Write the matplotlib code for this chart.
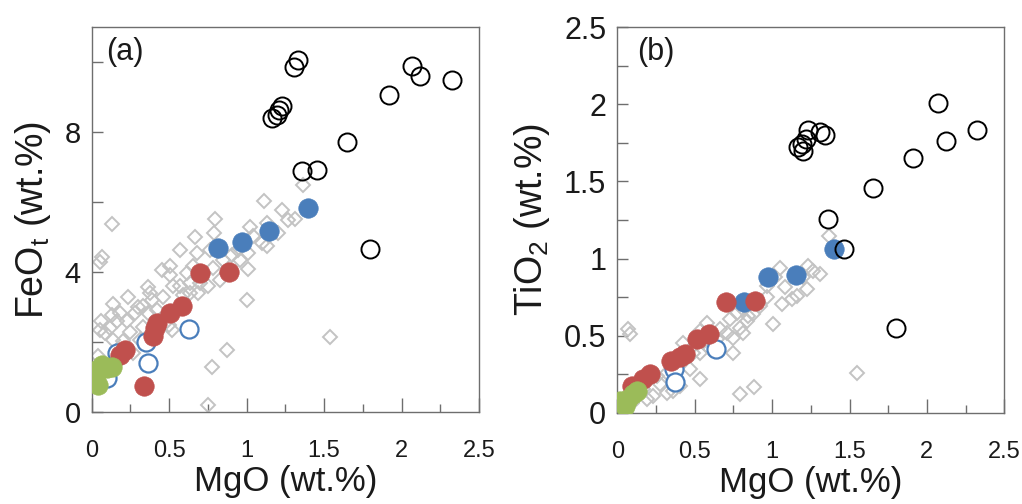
import matplotlib
matplotlib.use("Agg")
import matplotlib.pyplot as plt

plt.rcParams['font.family'] = ['Liberation Sans', 'DejaVu Sans']
plt.rcParams['mathtext.fontset'] = 'custom'
plt.rcParams['mathtext.rm'] = 'Liberation Sans'

# ---------------- Panel (a): FeOt vs MgO ----------------
a_black_x = [1.334, 1.308, 1.226, 1.209, 1.194, 1.162, 1.355, 1.457, 1.646, 1.917, 2.070, 2.119, 2.324, 1.799]
a_black_y = [10.07, 9.85, 8.75, 8.64, 8.50, 8.39, 6.88, 6.92, 7.71, 9.07, 9.90, 9.59, 9.49, 4.65]
a_bluef_x = [1.394, 1.145, 0.970, 0.813]
a_bluef_y = [5.82, 5.18, 4.85, 4.69]
a_blueo_x = [0.628, 0.353, 0.361, 0.161, 0.097]
a_blueo_y = [2.37, 1.99, 1.41, 1.69, 0.97]
a_red_x = [0.699, 0.888, 0.585, 0.506, 0.424, 0.409, 0.394, 0.215, 0.183, 0.338]
a_red_y = [3.97, 4.00, 3.04, 2.83, 2.54, 2.40, 2.18, 1.78, 1.64, 0.73]
a_green_x = [0.043, 0.097, 0.129, 0.011, 0.022, 0.043, 0.065]
a_green_y = [1.21, 1.26, 1.30, 1.16, 0.97, 0.78, 1.35]
a_grey_x = [0.129, 0.065, 0.054, 0.749, 0.779, 0.871, 1.000, 1.538, 1.362, 1.112,
            1.231, 1.312, 0.796, 0.792, 0.667, 0.570, 0.452, 0.506, 0.366, 0.237,
            0.140, 0.129, 0.054, 0.058, 0.161, 0.301, 0.280, 0.366, 0.387, 0.204,
            0.269, 0.043, 0.516, 0.570, 0.635, 0.688, 0.753, 0.785, 0.850, 0.904,
            0.947, 1.011, 1.043, 1.022, 1.130, 1.205, 1.011, 0.828, 0.656, 0.678,
            0.592, 0.463, 0.420, 0.501, 0.333, 0.226, 0.613, 0.721, 0.871, 0.957,
            1.097, 1.269, 0.118, 0.086, 0.183, 0.333, 0.376, 0.527, 0.635, 0.699,
            0.506, 0.764, 1.130, 0.140, 0.312, 0.441, 0.247]
a_grey_y = [5.38, 4.43, 4.28, 0.21, 1.29, 1.78, 3.19, 2.14, 6.48, 6.02,
            5.76, 5.51, 5.52, 5.11, 5.00, 4.64, 4.05, 3.92, 3.57, 3.30,
            3.10, 2.78, 2.35, 2.59, 2.59, 3.00, 2.83, 2.83, 3.21, 2.02,
            1.69, 1.59, 2.35, 3.59, 3.69, 3.40, 3.59, 4.11, 4.35, 4.50,
            4.64, 4.54, 5.02, 5.30, 4.73, 5.11, 4.09, 3.78, 4.16, 4.54,
            3.35, 3.30, 2.92, 2.50, 2.43, 2.59, 3.97, 3.97, 3.97, 4.35,
            4.83, 5.50, 2.40, 2.26, 2.83, 3.02, 3.40, 3.59, 3.40, 3.69,
            4.16, 4.64, 5.40, 2.07, 2.07, 2.64, 2.30]

# ---------------- Panel (b): TiO2 vs MgO ----------------
b_black_x = [2.069, 2.323, 2.121, 1.912, 1.649, 1.361, 1.464, 1.800, 1.234, 1.309, 1.344, 1.217, 1.191, 1.165, 1.202]
b_black_y = [2.005, 1.832, 1.762, 1.650, 1.455, 1.256, 1.064, 0.551, 1.834, 1.823, 1.798, 1.777, 1.743, 1.726, 1.700]
b_bluef_x = [1.400, 1.152, 0.975, 0.820]
b_bluef_y = [1.062, 0.893, 0.882, 0.720]
b_blueo_x = [0.637, 0.366, 0.373]
b_blueo_y = [0.417, 0.287, 0.200]
b_red_x = [0.702, 0.891, 0.594, 0.512, 0.437, 0.405, 0.347, 0.211, 0.168, 0.093]
b_red_y = [0.720, 0.726, 0.514, 0.477, 0.380, 0.363, 0.337, 0.254, 0.218, 0.174]
b_green_x = [0.039, 0.071, 0.125, 0.103, 0.050, 0.017]
b_green_y = [0.066, 0.088, 0.142, 0.120, 0.044, 0.077]
b_grey_x = [0.071, 0.082, 1.370, 1.546, 0.792, 0.883, 1.008, 1.234, 1.309, 1.266,
            1.202, 1.051, 1.019, 1.083, 1.126, 1.062, 0.965, 0.922, 0.879, 0.835,
            0.792, 0.749, 0.706, 0.663, 0.577, 0.534, 0.426, 0.469, 0.534, 0.405,
            0.233, 0.189, 0.319, 0.362, 0.276, 0.771, 0.814, 0.728, 0.846, 0.642,
            0.599, 0.491, 0.383, 0.319, 0.254, 0.168, 0.125, 0.093, 0.965, 1.158,
            1.223, 0.534, 0.448, 0.749, 0.814]
b_grey_y = [0.547, 0.510, 1.148, 0.261, 0.120, 0.170, 0.575, 0.954, 0.900, 0.921,
            0.878, 0.936, 0.878, 0.813, 0.737, 0.705, 0.748, 0.694, 0.640, 0.596,
            0.553, 0.488, 0.520, 0.542, 0.585, 0.531, 0.456, 0.283, 0.218, 0.174,
            0.109, 0.088, 0.131, 0.142, 0.185, 0.650, 0.672, 0.607, 0.629, 0.477,
            0.412, 0.391, 0.304, 0.261, 0.239, 0.153, 0.109, 0.066, 0.824, 0.759,
            0.802, 0.391, 0.369, 0.391, 0.521]

x_ticks = [0, 0.5, 1, 1.5, 2, 2.5]
x_ticklabels = ['0', '0.5', '1', '1.5', '2', '2.5']
a_yticks = [0, 2, 4, 6, 8, 10]
a_yticklabels = ['0', '', '4', '', '8', '']
b_yticks = [0, 0.25, 0.5, 0.75, 1, 1.25, 1.5, 1.75, 2, 2.25, 2.5]
b_yticklabels = ['0', '', '0.5', '', '1', '', '1.5', '', '2', '', '2.5']

BLUE = '#4a7ebb'
RED = '#c0504d'
GREEN = '#9bbb59'
GREY = '#c3c3c3'
SPINE = '#6e6e6e'
TXT = '#1a1a1a'

fig = plt.figure(figsize=(10.22, 5.04), dpi=100)
ax_a = fig.add_axes([0.0897, 0.1825, 0.379, 0.7639])
ax_b = fig.add_axes([0.604, 0.1806, 0.3787, 0.7658])


def draw(ax, grey, black, bluef, blueo, red, green):
    ax.plot(grey[0], grey[1], linestyle='none', marker='D', ms=7.3, mfc='none',
            mec=GREY, mew=1.4, zorder=2)
    ax.plot(blueo[0], blueo[1], linestyle='none', marker='o', ms=13, mfc='white',
            mec=BLUE, mew=1.6, zorder=3)
    ax.plot(bluef[0], bluef[1], linestyle='none', marker='o', ms=14, mfc=BLUE,
            mec=BLUE, mew=0.5, zorder=3)
    ax.plot(red[0], red[1], linestyle='none', marker='o', ms=14, mfc=RED,
            mec=RED, mew=0.5, zorder=4)
    ax.plot(green[0], green[1], linestyle='none', marker='o', ms=14, mfc=GREEN,
            mec=GREEN, mew=0.5, zorder=5)
    ax.plot(black[0], black[1], linestyle='none', marker='o', ms=13, mfc='none',
            mec='black', mew=1.4, zorder=6)


draw(ax_a, (a_grey_x, a_grey_y), (a_black_x, a_black_y), (a_bluef_x, a_bluef_y),
     (a_blueo_x, a_blueo_y), (a_red_x, a_red_y), (a_green_x, a_green_y))
draw(ax_b, (b_grey_x, b_grey_y), (b_black_x, b_black_y), (b_bluef_x, b_bluef_y),
     (b_blueo_x, b_blueo_y), (b_red_x, b_red_y), (b_green_x, b_green_y))

for ax, yt, ytl, ymax, lab, labx, ylab, ylx, ysz in [
        (ax_a, a_yticks, a_yticklabels, 11, '(a)', 0.038,
         'FeO$_\\mathregular{t}$ (wt.%)', -0.10, 21),
        (ax_b, b_yticks, b_yticklabels, 2.5, '(b)', 0.05,
         'TiO$_\\mathregular{2}$ (wt.%)', -0.168, 22)]:
    ax.set_xlim(0, 2.5)
    ax.set_ylim(0, ymax)
    ax.set_xticks(x_ticks)
    ax.set_xticklabels(x_ticklabels)
    ax.set_xticks([0.25, 0.75, 1.25, 1.75, 2.25], minor=True)
    ax.set_yticks(yt)
    ax.set_yticklabels(ytl)
    ax.tick_params(axis='x', which='major', direction='in', length=10, width=1,
                   color=SPINE, labelsize=17, labelcolor=TXT, pad=20)
    ax.tick_params(axis='x', which='minor', direction='in', length=6, width=1,
                   color=SPINE)
    ax.tick_params(axis='y', which='major', direction='in', length=8, width=1,
                   color=SPINE, labelsize=ysz, labelcolor=TXT, pad=8)
    for s in ax.spines.values():
        s.set_color(SPINE)
        s.set_linewidth(1.0)
    ax.set_xlabel('MgO (wt.%)', fontsize=25, color=TXT, labelpad=2)
    ax.set_ylabel(ylab, fontsize=27, color=TXT)
    ax.yaxis.set_label_coords(ylx, 0.5)
    ax.text(labx, 0.975, lab, transform=ax.transAxes, ha='left', va='top',
            fontsize=22, color=TXT)

fig.savefig('out.png', dpi=100)
